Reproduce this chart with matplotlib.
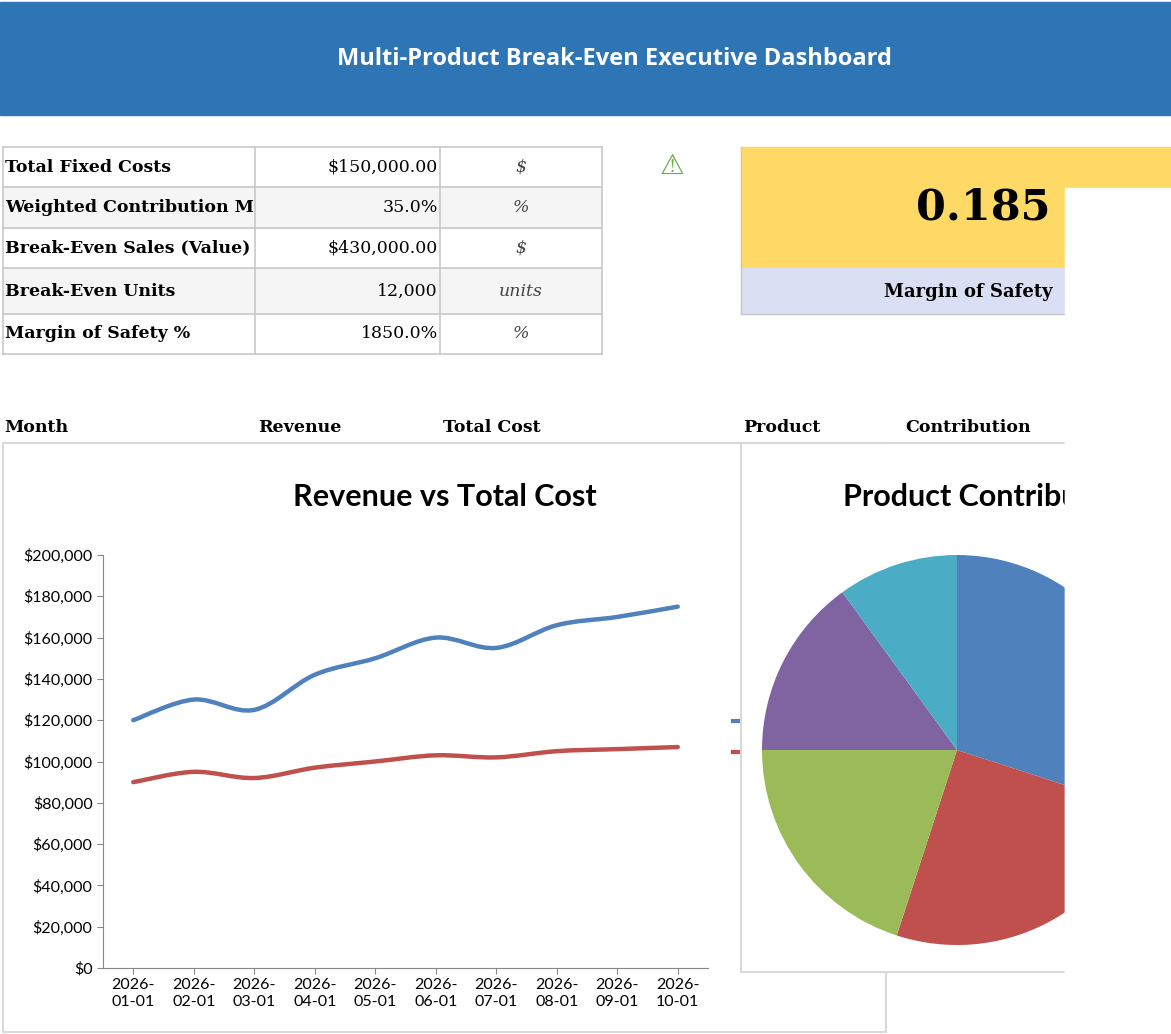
import matplotlib
matplotlib.use("Agg")
import matplotlib.pyplot as plt
from matplotlib.patches import Rectangle, PathPatch
from matplotlib.path import Path
from matplotlib.ticker import FuncFormatter

months = ["2026-01-01", "2026-02-01", "2026-03-01", "2026-04-01", "2026-05-01",
          "2026-06-01", "2026-07-01", "2026-08-01", "2026-09-01", "2026-10-01"]
revenue = [120000, 130000, 125000, 142000, 150000, 160000, 155000, 166000, 170000, 175000]
total_cost = [90000, 95000, 92000, 97000, 100000, 103000, 102000, 105000, 106000, 107000]

products = ["A", "B", "C", "D", "E"]
contribution = [30, 25, 20, 15, 10]
pie_colors = ["#4f81bd", "#c0504d", "#9bbb59", "#8064a2", "#4bacc6"]

kpi_labels = ["Total Fixed Costs", "Weighted Contribution M", "Break-Even Sales (Value)",
              "Break-Even Units", "Margin of Safety %"]
kpi_values = ["$150,000.00", "35.0%", "$430,000.00", "12,000", "1850.0%"]
kpi_units = ["$", "%", "$", "units", "%"]
mos_value = "0.185"

W, H = 1171, 1034
fig = plt.figure(figsize=(W / 100, H / 100), dpi=100)
bg = fig.add_axes([0, 0, 1, 1])
bg.set_xlim(0, W)
bg.set_ylim(H, 0)
bg.axis("off")

# header
bg.add_patch(Rectangle((0, 2), W, 113, color="#2e75b6"))
bg.text(614, 59, "Multi-Product Break-Even Executive Dashboard", color="white",
        fontsize=17, fontweight="bold", family="Open Sans", ha="center", va="center")

# KPI table
cols = [3, 255, 440, 602]
rows = [147, 187, 228, 268, 314, 354]
grid = "#c8c8c8"
for i in range(5):
    if i % 2 == 1:
        bg.add_patch(Rectangle((cols[0], rows[i]), cols[3] - cols[0], rows[i + 1] - rows[i],
                               color="#f5f5f5", zorder=0))
for y in rows:
    bg.plot([cols[0], cols[3]], [y, y], color=grid, lw=1.2)
for x in cols:
    bg.plot([x, x], [rows[0], rows[-1]], color=grid, lw=1.2)
for i in range(5):
    yc = (rows[i] + rows[i + 1]) / 2
    t = bg.text(cols[0] + 2, yc, kpi_labels[i], fontsize=12.5, fontweight="bold",
                family="DejaVu Serif", va="center", ha="left")
    t.set_clip_path(Rectangle((cols[0], rows[0]), cols[1] - cols[0], 300, transform=bg.transData))
    bg.text(cols[2] - 2, yc, kpi_values[i], fontsize=12.5, family="DejaVu Serif",
            va="center", ha="right")
    bg.text((cols[2] + cols[3]) / 2, yc, kpi_units[i], fontsize=12.5, family="DejaVu Serif",
            style="italic", color="#444444", va="center", ha="center")

bg.text(672, 166, "\u26a0", fontsize=20, color="#70ad47", ha="center", va="center",
        family="DejaVu Sans")

# margin of safety card
bg.add_patch(Rectangle((741, 147), 324, 121, color="#ffd966"))
bg.add_patch(Rectangle((1065, 147), 106, 40, color="#ffd966"))
bg.add_patch(Rectangle((741, 268), 324, 46, color="#dae0f3"))
bg.plot([741, 741], [147, 314], color=grid, lw=1)
bg.plot([741, 1065], [314, 314], color=grid, lw=1)
bg.text(1050, 208, mos_value, fontsize=31, fontweight="bold", family="DejaVu Serif",
        ha="right", va="center")
bg.text(968, 292, "Margin of Safety", fontsize=13, fontweight="bold", family="DejaVu Serif",
        ha="center", va="center")

# section headers
for x, s in [(4, "Month"), (258, "Revenue"), (443, "Total Cost"), (743, "Product"), (905, "Contribution")]:
    bg.text(x, 427, s, fontsize=12.5, fontweight="bold", family="DejaVu Serif", va="center")

# chart frames
bg.add_patch(Rectangle((3, 443), 883, 589, fill=False, ec="#d9d9d9", lw=1.5))
bg.plot([733, 741], [721, 721], color="#4f81bd", lw=3)
bg.plot([733, 741], [752, 752], color="#c0504d", lw=3)
bg.text(445, 497, "Revenue vs Total Cost", fontsize=22, fontweight="bold", family="Lato",
        ha="center", va="center")

# line chart
ax = fig.add_axes([103 / W, (H - 968) / H, 605 / W, 413 / H])


def smooth_path(xs, ys):
    verts = [(xs[0], ys[0])]
    codes = [Path.MOVETO]
    n = len(xs)
    for i in range(n - 1):
        p0 = (xs[max(i - 1, 0)], ys[max(i - 1, 0)])
        p1 = (xs[i], ys[i])
        p2 = (xs[i + 1], ys[i + 1])
        p3 = (xs[min(i + 2, n - 1)], ys[min(i + 2, n - 1)])
        c1 = (p1[0] + (p2[0] - p0[0]) / 6, p1[1] + (p2[1] - p0[1]) / 6)
        c2 = (p2[0] - (p3[0] - p1[0]) / 6, p2[1] - (p3[1] - p1[1]) / 6)
        verts += [c1, c2, p2]
        codes += [Path.CURVE4] * 3
    return Path(verts, codes)


xs = list(range(len(months)))
for series, c in [(revenue, "#4f81bd"), (total_cost, "#c0504d")]:
    ax.add_patch(PathPatch(smooth_path(xs, series), fill=False, ec=c, lw=3.2, capstyle="round"))
ax.set_xlim(-0.5, len(months) - 0.5)
ax.set_ylim(0, 200000)
ax.set_yticks(range(0, 200001, 20000))
ax.yaxis.set_major_formatter(FuncFormatter(lambda v, p: "${:,.0f}".format(v)))
ax.set_xticks(xs)
ax.set_xticklabels([m[:5] + "\n" + m[5:] for m in months])
for sp in ["top", "right"]:
    ax.spines[sp].set_visible(False)
for sp in ["left", "bottom"]:
    ax.spines[sp].set_color("#888888")
ax.tick_params(labelsize=11.5, colors="#888888", labelcolor="black", length=4)
for lab in ax.get_xticklabels() + ax.get_yticklabels():
    lab.set_family("Lato")

# pie chart
bg2 = fig.add_axes([0, 0, 1, 1], zorder=2)
bg2.set_xlim(0, W)
bg2.set_ylim(H, 0)
bg2.axis("off")
bg2.patch.set_alpha(0)
bg2.add_patch(Rectangle((741, 443), 330, 529, fc="white", ec="#d9d9d9", lw=1.5))
bg2.text(843, 497, "Product Contribution", fontsize=22, fontweight="bold", family="Lato",
         ha="left", va="center")

pax = fig.add_axes([762 / W, (H - 945) / H, 390 / W, 390 / H], zorder=3)
pax.pie(contribution, colors=pie_colors, startangle=90, counterclock=False,
        wedgeprops=dict(lw=0))
pax.set_xlim(-1, 1)
pax.set_ylim(-1, 1)
pax.set_aspect("equal")

top = fig.add_axes([0, 0, 1, 1], zorder=4)
top.set_xlim(0, W)
top.set_ylim(H, 0)
top.axis("off")
top.patch.set_alpha(0)
top.add_patch(Rectangle((1065, 188), 106, 846, color="white"))
top.add_patch(Rectangle((1065, 442), 2, 531, color="white"))

fig.savefig("out.png", dpi=100)
